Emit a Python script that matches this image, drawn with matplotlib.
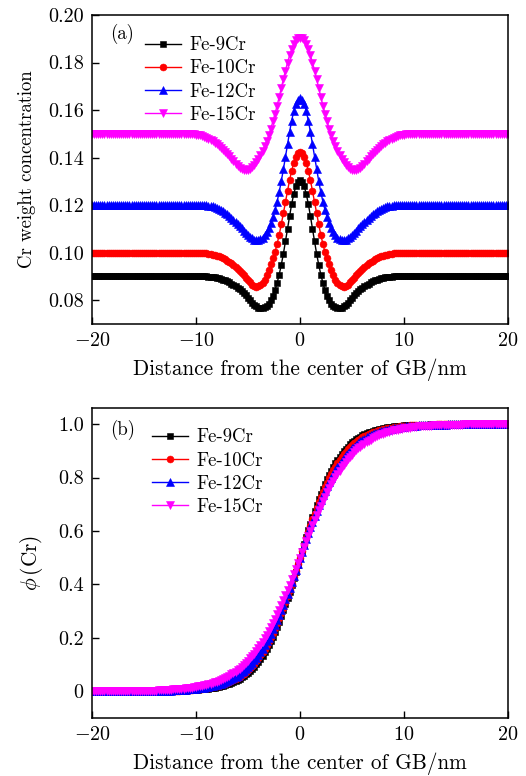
import matplotlib
matplotlib.use('Agg')
import matplotlib.pyplot as plt

plt.rcParams['font.family'] = 'serif'
plt.rcParams['font.serif'] = ['cmr10']
plt.rcParams['mathtext.fontset'] = 'cm'
plt.rcParams['axes.formatter.use_mathtext'] = True

# distance from GB centre (nm)
x_nm = [
    -20.0, -19.8, -19.6, -19.4, -19.2, -19.0, -18.8, -18.6, -18.4, -18.2,
    -18.0, -17.8, -17.6, -17.4, -17.2, -17.0, -16.8, -16.6, -16.4, -16.2,
    -16.0, -15.8, -15.6, -15.4, -15.2, -15.0, -14.8, -14.6, -14.4, -14.2,
    -14.0, -13.8, -13.6, -13.4, -13.2, -13.0, -12.8, -12.6, -12.4, -12.2,
    -12.0, -11.8, -11.6, -11.4, -11.2, -11.0, -10.8, -10.6, -10.4, -10.2,
    -10.0, -9.8, -9.6, -9.4, -9.2, -9.0, -8.8, -8.6, -8.4, -8.2,
    -8.0, -7.8, -7.6, -7.4, -7.2, -7.0, -6.8, -6.6, -6.4, -6.2,
    -6.0, -5.8, -5.6, -5.4, -5.2, -5.0, -4.8, -4.6, -4.4, -4.2,
    -4.0, -3.8, -3.6, -3.4, -3.2, -3.0, -2.8, -2.6, -2.4, -2.2,
    -2.0, -1.8, -1.6, -1.4, -1.2, -1.0, -0.8, -0.6, -0.4, -0.2,
    0.0,
    0.2, 0.4, 0.6, 0.8, 1.0, 1.2, 1.4, 1.6, 1.8, 2.0,
    2.2, 2.4, 2.6, 2.8, 3.0, 3.2, 3.4, 3.6, 3.8, 4.0,
    4.2, 4.4, 4.6, 4.8, 5.0, 5.2, 5.4, 5.6, 5.8, 6.0,
    6.2, 6.4, 6.6, 6.8, 7.0, 7.2, 7.4, 7.6, 7.8, 8.0,
    8.2, 8.4, 8.6, 8.8, 9.0, 9.2, 9.4, 9.6, 9.8, 10.0,
    10.2, 10.4, 10.6, 10.8, 11.0, 11.2, 11.4, 11.6, 11.8, 12.0,
    12.2, 12.4, 12.6, 12.8, 13.0, 13.2, 13.4, 13.6, 13.8, 14.0,
    14.2, 14.4, 14.6, 14.8, 15.0, 15.2, 15.4, 15.6, 15.8, 16.0,
    16.2, 16.4, 16.6, 16.8, 17.0, 17.2, 17.4, 17.6, 17.8, 18.0,
    18.2, 18.4, 18.6, 18.8, 19.0, 19.2, 19.4, 19.6, 19.8, 20.0,
]

# (a) Cr weight concentration
cr_9 = [
    0.09, 0.09, 0.09, 0.09, 0.09, 0.09, 0.09, 0.09, 0.09, 0.09,
    0.09, 0.09, 0.09, 0.09, 0.09, 0.09, 0.09, 0.09, 0.09, 0.09,
    0.09, 0.09, 0.09, 0.09, 0.09, 0.09, 0.09, 0.09, 0.09, 0.09,
    0.09, 0.09, 0.09, 0.09, 0.09, 0.09, 0.09, 0.09, 0.09, 0.09,
    0.09, 0.09, 0.09, 0.09, 0.09, 0.09, 0.09, 0.09, 0.09, 0.09,
    0.09, 0.09, 0.09, 0.09, 0.09, 0.09, 0.0899, 0.0898, 0.0897, 0.0896,
    0.0894, 0.0892, 0.0889, 0.0886, 0.0883, 0.0879, 0.0875, 0.0870, 0.0865, 0.0859,
    0.0853, 0.0846, 0.0838, 0.0829, 0.0820, 0.0810, 0.0800, 0.0790, 0.0781, 0.0774,
    0.0768, 0.0766, 0.0766, 0.0770, 0.0776, 0.0786, 0.0800, 0.0819, 0.0843, 0.0873,
    0.0908, 0.0949, 0.0995, 0.1047, 0.1100, 0.1154, 0.1205, 0.1247, 0.1280, 0.1299,
    0.1305,
    0.1299, 0.1280, 0.1247, 0.1205, 0.1154, 0.1100, 0.1047, 0.0995, 0.0949, 0.0908,
    0.0873, 0.0843, 0.0819, 0.0800, 0.0786, 0.0776, 0.0770, 0.0766, 0.0766, 0.0768,
    0.0774, 0.0781, 0.0790, 0.0800, 0.0810, 0.0820, 0.0829, 0.0838, 0.0846, 0.0853,
    0.0859, 0.0865, 0.0870, 0.0875, 0.0879, 0.0883, 0.0886, 0.0889, 0.0892, 0.0894,
    0.0896, 0.0897, 0.0898, 0.0899, 0.09, 0.09, 0.09, 0.09, 0.09, 0.09,
    0.09, 0.09, 0.09, 0.09, 0.09, 0.09, 0.09, 0.09, 0.09, 0.09,
    0.09, 0.09, 0.09, 0.09, 0.09, 0.09, 0.09, 0.09, 0.09, 0.09,
    0.09, 0.09, 0.09, 0.09, 0.09, 0.09, 0.09, 0.09, 0.09, 0.09,
    0.09, 0.09, 0.09, 0.09, 0.09, 0.09, 0.09, 0.09, 0.09, 0.09,
    0.09, 0.09, 0.09, 0.09, 0.09, 0.09, 0.09, 0.09, 0.09, 0.09,
]
cr_10 = [
    0.10, 0.10, 0.10, 0.10, 0.10, 0.10, 0.10, 0.10, 0.10, 0.10,
    0.10, 0.10, 0.10, 0.10, 0.10, 0.10, 0.10, 0.10, 0.10, 0.10,
    0.10, 0.10, 0.10, 0.10, 0.10, 0.10, 0.10, 0.10, 0.10, 0.10,
    0.10, 0.10, 0.10, 0.10, 0.10, 0.10, 0.10, 0.10, 0.10, 0.10,
    0.10, 0.10, 0.10, 0.10, 0.10, 0.10, 0.10, 0.10, 0.10, 0.10,
    0.1000, 0.1000, 0.0999, 0.0999, 0.0998, 0.0997, 0.0996, 0.0994, 0.0992, 0.0990,
    0.0987, 0.0984, 0.0980, 0.0976, 0.0972, 0.0967, 0.0962, 0.0956, 0.0949, 0.0941,
    0.0933, 0.0924, 0.0915, 0.0905, 0.0895, 0.0885, 0.0875, 0.0866, 0.0860, 0.0857,
    0.0858, 0.0863, 0.0873, 0.0887, 0.0906, 0.0928, 0.0952, 0.0976, 0.1003, 0.1037,
    0.1075, 0.1119, 0.1165, 0.1213, 0.1260, 0.1305, 0.1345, 0.1378, 0.1404, 0.1420,
    0.1425,
    0.1420, 0.1404, 0.1378, 0.1345, 0.1305, 0.1260, 0.1213, 0.1165, 0.1119, 0.1075,
    0.1037, 0.1003, 0.0976, 0.0952, 0.0928, 0.0906, 0.0887, 0.0873, 0.0863, 0.0858,
    0.0857, 0.0860, 0.0866, 0.0875, 0.0885, 0.0895, 0.0905, 0.0915, 0.0924, 0.0933,
    0.0941, 0.0949, 0.0956, 0.0962, 0.0967, 0.0972, 0.0976, 0.0980, 0.0984, 0.0987,
    0.0990, 0.0992, 0.0994, 0.0996, 0.0997, 0.0998, 0.0999, 0.0999, 0.1000, 0.1000,
    0.10, 0.10, 0.10, 0.10, 0.10, 0.10, 0.10, 0.10, 0.10, 0.10,
    0.10, 0.10, 0.10, 0.10, 0.10, 0.10, 0.10, 0.10, 0.10, 0.10,
    0.10, 0.10, 0.10, 0.10, 0.10, 0.10, 0.10, 0.10, 0.10, 0.10,
    0.10, 0.10, 0.10, 0.10, 0.10, 0.10, 0.10, 0.10, 0.10, 0.10,
    0.10, 0.10, 0.10, 0.10, 0.10, 0.10, 0.10, 0.10, 0.10, 0.10,
]
cr_12 = [
    0.12, 0.12, 0.12, 0.12, 0.12, 0.12, 0.12, 0.12, 0.12, 0.12,
    0.12, 0.12, 0.12, 0.12, 0.12, 0.12, 0.12, 0.12, 0.12, 0.12,
    0.12, 0.12, 0.12, 0.12, 0.12, 0.12, 0.12, 0.12, 0.12, 0.12,
    0.12, 0.12, 0.12, 0.12, 0.12, 0.12, 0.12, 0.12, 0.12, 0.12,
    0.12, 0.12, 0.12, 0.12, 0.12, 0.12, 0.12, 0.12, 0.12, 0.12,
    0.1200, 0.1200, 0.1200, 0.1200, 0.1199, 0.1199, 0.1198, 0.1197, 0.1195, 0.1192,
    0.1189, 0.1185, 0.1180, 0.1175, 0.1169, 0.1162, 0.1155, 0.1147, 0.1139, 0.1130,
    0.1121, 0.1112, 0.1102, 0.1092, 0.1083, 0.1074, 0.1066, 0.1060, 0.1055, 0.1052,
    0.1052, 0.1056, 0.1063, 0.1074, 0.1088, 0.1105, 0.1126, 0.1151, 0.1180, 0.1215,
    0.1255, 0.1301, 0.1350, 0.1403, 0.1456, 0.1508, 0.1556, 0.1595, 0.1626, 0.1644,
    0.1650,
    0.1644, 0.1626, 0.1595, 0.1556, 0.1508, 0.1456, 0.1403, 0.1350, 0.1301, 0.1255,
    0.1215, 0.1180, 0.1151, 0.1126, 0.1105, 0.1088, 0.1074, 0.1063, 0.1056, 0.1052,
    0.1052, 0.1055, 0.1060, 0.1066, 0.1074, 0.1083, 0.1092, 0.1102, 0.1112, 0.1121,
    0.1130, 0.1139, 0.1147, 0.1155, 0.1162, 0.1169, 0.1175, 0.1180, 0.1185, 0.1189,
    0.1192, 0.1195, 0.1197, 0.1198, 0.1199, 0.1199, 0.1200, 0.1200, 0.1200, 0.1200,
    0.12, 0.12, 0.12, 0.12, 0.12, 0.12, 0.12, 0.12, 0.12, 0.12,
    0.12, 0.12, 0.12, 0.12, 0.12, 0.12, 0.12, 0.12, 0.12, 0.12,
    0.12, 0.12, 0.12, 0.12, 0.12, 0.12, 0.12, 0.12, 0.12, 0.12,
    0.12, 0.12, 0.12, 0.12, 0.12, 0.12, 0.12, 0.12, 0.12, 0.12,
    0.12, 0.12, 0.12, 0.12, 0.12, 0.12, 0.12, 0.12, 0.12, 0.12,
]
cr_15 = [
    0.15, 0.15, 0.15, 0.15, 0.15, 0.15, 0.15, 0.15, 0.15, 0.15,
    0.15, 0.15, 0.15, 0.15, 0.15, 0.15, 0.15, 0.15, 0.15, 0.15,
    0.15, 0.15, 0.15, 0.15, 0.15, 0.15, 0.15, 0.15, 0.15, 0.15,
    0.15, 0.15, 0.15, 0.15, 0.15, 0.15, 0.15, 0.15, 0.15, 0.15,
    0.15, 0.15, 0.15, 0.15, 0.15, 0.15, 0.15, 0.15, 0.1499, 0.1498,
    0.1497, 0.1496, 0.1494, 0.1491, 0.1488, 0.1484, 0.1480, 0.1475, 0.1469, 0.1463,
    0.1456, 0.1449, 0.1441, 0.1433, 0.1424, 0.1415, 0.1405, 0.1395, 0.1385, 0.1375,
    0.1366, 0.1358, 0.1352, 0.1348, 0.1347, 0.1348, 0.1352, 0.1360, 0.1370, 0.1382,
    0.1395, 0.1411, 0.1428, 0.1448, 0.1470, 0.1495, 0.1522, 0.1553, 0.1585, 0.1619,
    0.1655, 0.1693, 0.1730, 0.1766, 0.1800, 0.1830, 0.1856, 0.1877, 0.1893, 0.1902,
    0.1905,
    0.1902, 0.1893, 0.1877, 0.1856, 0.1830, 0.1800, 0.1766, 0.1730, 0.1693, 0.1655,
    0.1619, 0.1585, 0.1553, 0.1522, 0.1495, 0.1470, 0.1448, 0.1428, 0.1411, 0.1395,
    0.1382, 0.1370, 0.1360, 0.1352, 0.1348, 0.1347, 0.1348, 0.1352, 0.1358, 0.1366,
    0.1375, 0.1385, 0.1395, 0.1405, 0.1415, 0.1424, 0.1433, 0.1441, 0.1449, 0.1456,
    0.1463, 0.1469, 0.1475, 0.1480, 0.1484, 0.1488, 0.1491, 0.1494, 0.1496, 0.1497,
    0.1498, 0.1499, 0.15, 0.15, 0.15, 0.15, 0.15, 0.15, 0.15, 0.15,
    0.15, 0.15, 0.15, 0.15, 0.15, 0.15, 0.15, 0.15, 0.15, 0.15,
    0.15, 0.15, 0.15, 0.15, 0.15, 0.15, 0.15, 0.15, 0.15, 0.15,
    0.15, 0.15, 0.15, 0.15, 0.15, 0.15, 0.15, 0.15, 0.15, 0.15,
    0.15, 0.15, 0.15, 0.15, 0.15, 0.15, 0.15, 0.15, 0.15, 0.15,
]

# (b) phi(Cr)
phi_9 = [
    0.0, 0.0, 0.0, 0.0, 0.0, 0.0, 0.0, 0.0, 0.0, 0.0,
    0.0, 0.0, 0.0, 0.0, 0.0, 0.0, 0.0, 0.0, 0.0, 0.0,
    0.0, 0.0, 0.0, 0.0, 0.0, 0.0, 0.0, 0.0, 0.001, 0.001,
    0.001, 0.001, 0.001, 0.001, 0.001, 0.001, 0.001, 0.001, 0.002, 0.002,
    0.002, 0.002, 0.002, 0.003, 0.003, 0.003, 0.004, 0.004, 0.004, 0.005,
    0.005, 0.006, 0.007, 0.007, 0.008, 0.009, 0.010, 0.011, 0.012, 0.014,
    0.015, 0.017, 0.019, 0.021, 0.023, 0.026, 0.028, 0.031, 0.035, 0.038,
    0.042, 0.047, 0.052, 0.057, 0.063, 0.069, 0.076, 0.084, 0.092, 0.101,
    0.111, 0.122, 0.133, 0.146, 0.159, 0.174, 0.189, 0.205, 0.223, 0.242,
    0.261, 0.282, 0.303, 0.326, 0.349, 0.373, 0.397, 0.423, 0.448, 0.474,
    0.500,
    0.526, 0.552, 0.577, 0.603, 0.627, 0.651, 0.674, 0.697, 0.718, 0.739,
    0.758, 0.777, 0.795, 0.811, 0.826, 0.841, 0.854, 0.867, 0.878, 0.889,
    0.899, 0.908, 0.916, 0.924, 0.931, 0.937, 0.943, 0.948, 0.953, 0.958,
    0.962, 0.965, 0.969, 0.972, 0.974, 0.977, 0.979, 0.981, 0.983, 0.985,
    0.986, 0.988, 0.989, 0.990, 0.991, 0.992, 0.993, 0.993, 0.994, 0.995,
    0.995, 0.996, 0.996, 0.996, 0.997, 0.997, 0.997, 0.998, 0.998, 0.998,
    0.998, 0.998, 0.999, 0.999, 0.999, 0.999, 0.999, 0.999, 0.999, 0.999,
    0.999, 0.999, 1.0, 1.0, 1.0, 1.0, 1.0, 1.0, 1.0, 1.0,
    1.0, 1.0, 1.0, 1.0, 1.0, 1.0, 1.0, 1.0, 1.0, 1.0,
    1.0, 1.0, 1.0, 1.0, 1.0, 1.0, 1.0, 1.0, 1.0, 1.0,
]
phi_10 = [
    0.0, 0.0, 0.0, 0.0, 0.0, 0.0, 0.0, 0.0, 0.0, 0.0,
    0.0, 0.0, 0.0, 0.0, 0.0, 0.0, 0.0, 0.0, 0.0, 0.0,
    0.0, 0.0, 0.0, 0.0, 0.0, 0.001, 0.001, 0.001, 0.001, 0.001,
    0.001, 0.001, 0.001, 0.001, 0.001, 0.002, 0.002, 0.002, 0.002, 0.002,
    0.003, 0.003, 0.003, 0.004, 0.004, 0.005, 0.005, 0.005, 0.006, 0.007,
    0.007, 0.008, 0.009, 0.010, 0.011, 0.012, 0.013, 0.015, 0.016, 0.018,
    0.019, 0.021, 0.024, 0.026, 0.028, 0.031, 0.034, 0.038, 0.042, 0.046,
    0.050, 0.055, 0.060, 0.066, 0.072, 0.079, 0.087, 0.095, 0.104, 0.113,
    0.123, 0.134, 0.146, 0.159, 0.172, 0.187, 0.202, 0.219, 0.236, 0.254,
    0.273, 0.293, 0.313, 0.335, 0.357, 0.380, 0.403, 0.427, 0.451, 0.475,
    0.500,
    0.525, 0.549, 0.573, 0.597, 0.620, 0.643, 0.665, 0.687, 0.707, 0.727,
    0.746, 0.764, 0.781, 0.798, 0.813, 0.828, 0.841, 0.854, 0.866, 0.877,
    0.887, 0.896, 0.905, 0.913, 0.921, 0.928, 0.934, 0.940, 0.945, 0.950,
    0.954, 0.958, 0.962, 0.966, 0.969, 0.972, 0.974, 0.976, 0.979, 0.981,
    0.982, 0.984, 0.985, 0.987, 0.988, 0.989, 0.990, 0.991, 0.992, 0.993,
    0.993, 0.994, 0.995, 0.995, 0.995, 0.996, 0.996, 0.997, 0.997, 0.997,
    0.998, 0.998, 0.998, 0.998, 0.998, 0.999, 0.999, 0.999, 0.999, 0.999,
    0.999, 0.999, 0.999, 0.999, 0.999, 1.0, 1.0, 1.0, 1.0, 1.0,
    1.0, 1.0, 1.0, 1.0, 1.0, 1.0, 1.0, 1.0, 1.0, 1.0,
    1.0, 1.0, 1.0, 1.0, 1.0, 1.0, 1.0, 1.0, 1.0, 1.0,
]
phi_12 = [
    0.0, 0.0, 0.0, 0.0, 0.0, 0.0, 0.0, 0.0, 0.0, 0.0,
    0.0, 0.0, 0.0, 0.0, 0.0, 0.0, 0.0, 0.0, 0.001, 0.001,
    0.001, 0.001, 0.001, 0.001, 0.001, 0.001, 0.001, 0.001, 0.001, 0.001,
    0.002, 0.002, 0.002, 0.002, 0.002, 0.002, 0.003, 0.003, 0.003, 0.004,
    0.004, 0.004, 0.005, 0.005, 0.006, 0.006, 0.007, 0.008, 0.008, 0.009,
    0.010, 0.011, 0.012, 0.013, 0.014, 0.016, 0.017, 0.019, 0.021, 0.022,
    0.025, 0.027, 0.029, 0.032, 0.035, 0.038, 0.042, 0.046, 0.050, 0.055,
    0.059, 0.065, 0.071, 0.077, 0.084, 0.091, 0.099, 0.107, 0.117, 0.126,
    0.137, 0.148, 0.160, 0.173, 0.187, 0.201, 0.216, 0.232, 0.249, 0.267,
    0.285, 0.304, 0.324, 0.344, 0.365, 0.387, 0.409, 0.431, 0.454, 0.477,
    0.500,
    0.523, 0.546, 0.569, 0.591, 0.613, 0.635, 0.656, 0.676, 0.696, 0.715,
    0.733, 0.751, 0.768, 0.784, 0.799, 0.813, 0.827, 0.840, 0.852, 0.863,
    0.874, 0.883, 0.893, 0.901, 0.909, 0.916, 0.923, 0.929, 0.935, 0.941,
    0.945, 0.950, 0.954, 0.958, 0.962, 0.965, 0.968, 0.971, 0.973, 0.975,
    0.978, 0.979, 0.981, 0.983, 0.984, 0.986, 0.987, 0.988, 0.989, 0.990,
    0.991, 0.992, 0.992, 0.993, 0.994, 0.994, 0.995, 0.995, 0.996, 0.996,
    0.996, 0.997, 0.997, 0.997, 0.998, 0.998, 0.998, 0.998, 0.998, 0.998,
    0.999, 0.999, 0.999, 0.999, 0.999, 0.999, 0.999, 0.999, 0.999, 0.999,
    0.999, 0.999, 1.0, 1.0, 1.0, 1.0, 1.0, 1.0, 1.0, 1.0,
    1.0, 1.0, 1.0, 1.0, 1.0, 1.0, 1.0, 1.0, 1.0, 1.0,
]
phi_15 = [
    0.0, 0.0, 0.0, 0.0, 0.0, 0.0, 0.0, 0.0, 0.001, 0.001,
    0.001, 0.001, 0.001, 0.001, 0.001, 0.001, 0.001, 0.001, 0.001, 0.001,
    0.001, 0.001, 0.002, 0.002, 0.002, 0.002, 0.002, 0.002, 0.003, 0.003,
    0.003, 0.003, 0.004, 0.004, 0.004, 0.005, 0.005, 0.006, 0.006, 0.007,
    0.007, 0.008, 0.008, 0.009, 0.010, 0.011, 0.012, 0.013, 0.014, 0.015,
    0.016, 0.018, 0.019, 0.021, 0.022, 0.024, 0.026, 0.029, 0.031, 0.033,
    0.036, 0.039, 0.042, 0.046, 0.050, 0.054, 0.058, 0.063, 0.068, 0.073,
    0.079, 0.085, 0.091, 0.098, 0.106, 0.114, 0.123, 0.132, 0.141, 0.152,
    0.162, 0.174, 0.186, 0.199, 0.212, 0.226, 0.241, 0.256, 0.272, 0.289,
    0.306, 0.323, 0.342, 0.360, 0.379, 0.399, 0.419, 0.439, 0.459, 0.479,
    0.500,
    0.521, 0.541, 0.561, 0.581, 0.601, 0.621, 0.640, 0.658, 0.677, 0.694,
    0.711, 0.728, 0.744, 0.759, 0.774, 0.788, 0.801, 0.814, 0.826, 0.838,
    0.848, 0.859, 0.868, 0.877, 0.886, 0.894, 0.902, 0.909, 0.915, 0.921,
    0.927, 0.932, 0.937, 0.942, 0.946, 0.950, 0.954, 0.958, 0.961, 0.964,
    0.967, 0.969, 0.971, 0.974, 0.976, 0.978, 0.979, 0.981, 0.982, 0.984,
    0.985, 0.986, 0.987, 0.988, 0.989, 0.990, 0.991, 0.992, 0.992, 0.993,
    0.993, 0.994, 0.994, 0.995, 0.995, 0.996, 0.996, 0.996, 0.997, 0.997,
    0.997, 0.997, 0.998, 0.998, 0.998, 0.998, 0.998, 0.998, 0.999, 0.999,
    0.999, 0.999, 0.999, 0.999, 0.999, 0.999, 0.999, 0.999, 0.999, 0.999,
    0.999, 0.999, 1.0, 1.0, 1.0, 1.0, 1.0, 1.0, 1.0, 1.0,
]

labels = ['Fe-9Cr', 'Fe-10Cr', 'Fe-12Cr', 'Fe-15Cr']
colors = ['black', 'red', 'blue', '#ff00ff']
markers = ['s', 'o', '^', 'v']
msizes = [4.3, 5.0, 5.4, 5.4]

x_ticks = [-20, -10, 0, 10, 20]
x_ticklabels = ['$-20$', '$-10$', '$0$', '$10$', '$20$']
a_ticks = [0.08, 0.10, 0.12, 0.14, 0.16, 0.18, 0.20]
a_ticklabels = ['0.08', '0.10', '0.12', '0.14', '0.16', '0.18', '0.20']
b_ticks = [0.0, 0.2, 0.4, 0.6, 0.8, 1.0]
b_ticklabels = ['0', '0.2', '0.4', '0.6', '0.8', '1.0']

TICK_FS = 14.5
LAB_FS = 15.3
LEG_FS = 13.5

fig = plt.figure(figsize=(5.26, 7.76), dpi=100)
ax1 = fig.add_axes([0.1749, 0.5825, 0.7909, 0.3982])
ax2 = fig.add_axes([0.1749, 0.0747, 0.7909, 0.3995])


def style(ax):
    ax.set_xlim(-20, 20)
    ax.set_xticks(x_ticks)
    ax.set_xticklabels(x_ticklabels)
    ax.tick_params(direction='in', length=5, width=1, labelsize=TICK_FS,
                   top=False, right=False, pad=6)
    for s in ax.spines.values():
        s.set_linewidth(1.1)
    ax.set_xlabel('Distance from the center of GB/nm', fontsize=LAB_FS, labelpad=6)


def draw(ax, series, tag, tag_y, leg_xy):
    for ys, c, m, ms, lab in zip(series, colors, markers, msizes, labels):
        ax.plot(x_nm, ys, color=c, marker=m, markersize=ms, linewidth=1.0,
                markeredgewidth=0.4, label=lab)
    style(ax)
    ax.text(0.043, tag_y, tag, transform=ax.transAxes, fontsize=LEG_FS, va='center')
    ax.legend(loc='upper left', bbox_to_anchor=leg_xy, frameon=False,
              fontsize=LEG_FS, handlelength=1.95, handletextpad=0.45,
              labelspacing=0.28, borderpad=0, borderaxespad=0)


# panel a
draw(ax1, [cr_9, cr_10, cr_12, cr_15], '(a)', 0.938, (0.127, 0.931))
ax1.set_ylim(0.07, 0.20)
ax1.set_yticks(a_ticks)
ax1.set_yticklabels(a_ticklabels)
ax1.set_ylabel('Cr weight concentration', fontsize=13.5, labelpad=8.5)

# panel b
draw(ax2, [phi_9, phi_10, phi_12, phi_15], '(b)', 0.929, (0.144, 0.934))
ax2.set_ylim(-0.1, 1.06)
ax2.set_yticks(b_ticks)
ax2.set_yticklabels(b_ticklabels)
ax2.set_ylabel(r'$\phi\,$(Cr)', fontsize=LAB_FS, labelpad=9)

fig.savefig('out.png', dpi=100)
